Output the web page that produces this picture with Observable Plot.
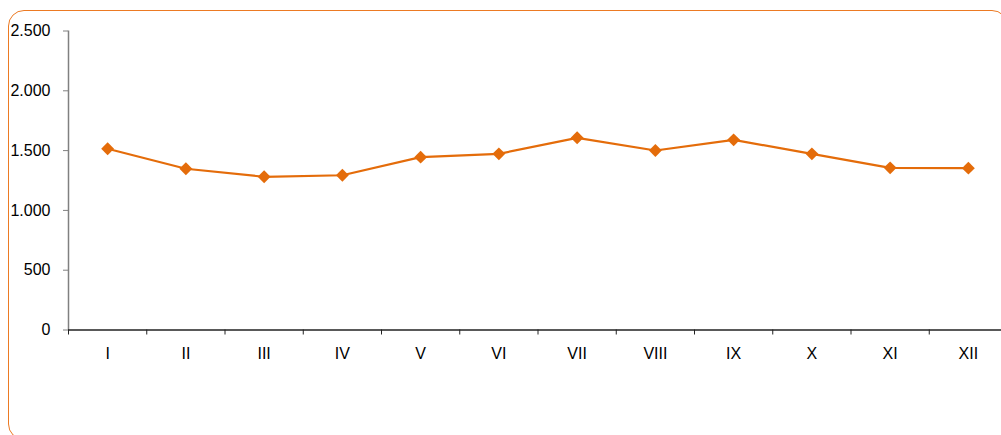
<!DOCTYPE html>
<html>
<head>
<meta charset="utf-8">
<script src="https://cdn.jsdelivr.net/npm/d3@7"></script>
<script src="https://cdn.jsdelivr.net/npm/@observablehq/plot@0.6"></script>
<style>
  html, body { margin: 0; padding: 0; background: #fff; overflow: hidden; }
  #wrap { position: relative; width: 1001px; height: 435px; overflow: hidden; }
  #frame { position: absolute; left: 8px; top: 10px; width: 1000px; height: 430px;
           border: 1.5px solid #ec7a23; border-radius: 16px; box-sizing: border-box; }
  #chart { position: absolute; left: 0; top: 0; }
</style>
</head>
<body>
<div id="wrap"><div id="frame"></div><div id="chart"></div></div>
<script>
const months = ["I","II","III","IV","V","VI","VII","VIII","IX","X","XI","XII"];
const values = [1515, 1348, 1281, 1294, 1445, 1473, 1607, 1501, 1590, 1473, 1356, 1353];
const yTicks = [0, 500, 1000, 1500, 2000, 2500];

const data = months.map((m, i) => ({m, i, x: i + 0.5, v: values[i]}));
const fmt = d => d3.format(",")(d).replace(/,/g, ".");

const chart = Plot.plot({
  width: 1001,
  height: 435,
  marginLeft: 68,
  marginTop: 30.5,
  marginBottom: 105.5,
  marginRight: 0,
  style: {fontFamily: "Liberation Sans, Arial, sans-serif", fontSize: "16px", background: "transparent", overflow: "visible"},
  x: {domain: [0, 12], range: [68, 1007]},
  y: {domain: [0, 2500], range: [329.5, 30.5]},
  marks: [
    Plot.axisY(yTicks, {tickSize: 5, tickPadding: 13, tickFormat: fmt, stroke: "#808080", fill: "#000", fontSize: 16, label: null}),
    Plot.ruleX([0], {y1: 0, y2: 2500, stroke: "#808080", strokeWidth: 1.5}),
    Plot.axisX(d3.range(0, 13), {anchor: "bottom", tickSize: 5, tickFormat: () => "", stroke: "#222", label: null}),
    Plot.ruleY([0], {x1: 0, x2: 12, stroke: "#222", strokeWidth: 1.3}),
    Plot.text(data, {x: "x", y: 0, text: "m", dy: 23.5, fill: "#000", fontSize: 16, lineAnchor: "middle"}),
    Plot.line(data, {x: "x", y: "v", stroke: "#e46c0a", strokeWidth: 2.2}),
    Plot.dot(data, {x: "x", y: "v", symbol: "diamond2", r: 5.8, fill: "#e46c0a", stroke: "none"})
  ]
});
document.getElementById("chart").appendChild(chart);
</script>
</body>
</html>
